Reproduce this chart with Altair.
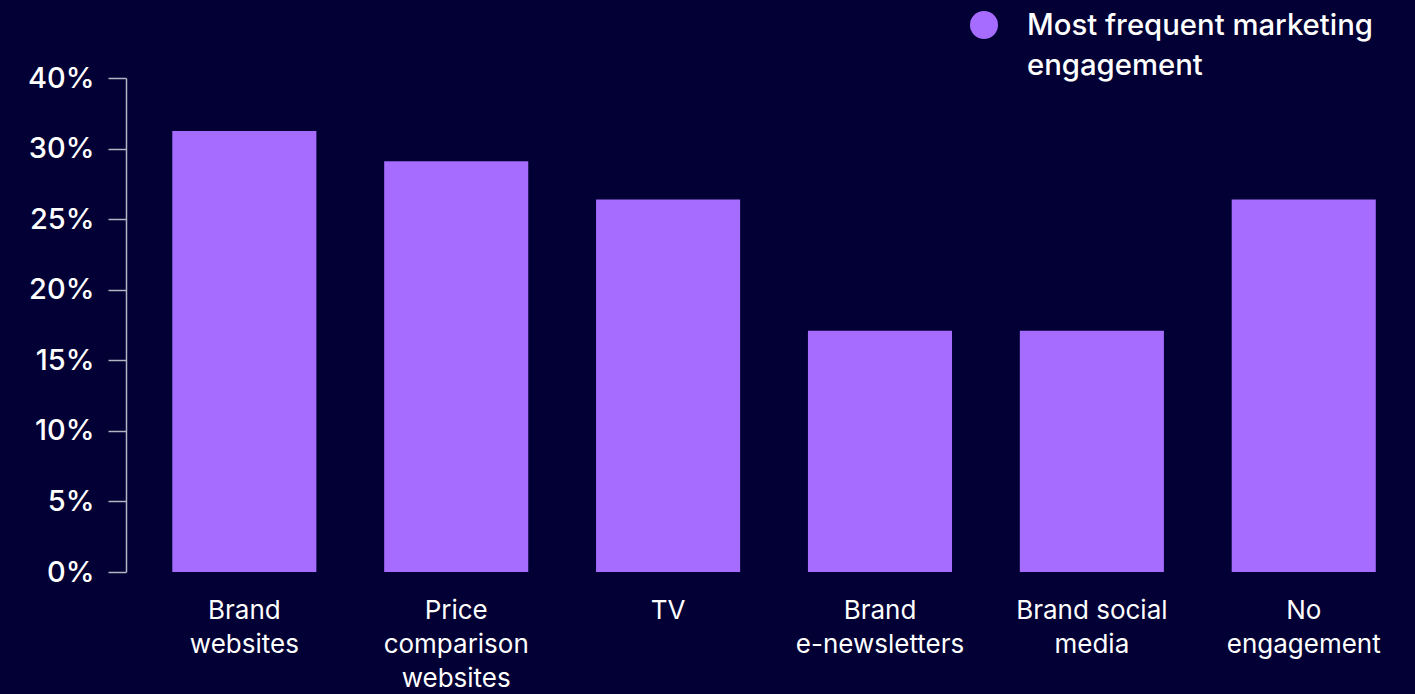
import altair as alt
import pandas as pd

categories = [
    "Brand\nwebsites",
    "Price\ncomparison\nwebsites",
    "TV",
    "Brand\ne-newsletters",
    "Brand social\nmedia",
    "No\nengagement",
]
values = [31.25, 29.1, 26.4, 17.1, 17.1, 26.4]
series_name = "Most frequent marketing\nengagement"
y_ticks = [0, 5, 10, 15, 20, 25, 30, 35]
y_tick_labels = ["0%", "5%", "10%", "15%", "20%", "25%", "30%", "40%"]

df = pd.DataFrame({"category": categories, "value": values})
legend_df = pd.DataFrame({"series": [series_name]})

label_map = "{" + ",".join(f"'{t}':'{l}'" for t, l in zip(y_ticks, y_tick_labels)) + "}"

BG = "#020034"
BAR = "#a66bff"
FONT = "Inter"

bars = (
    alt.Chart(df)
    .mark_bar(color=BAR)
    .encode(
        x=alt.X(
            "category:N",
            sort=categories,
            title=None,
            scale=alt.Scale(paddingInner=0.32, paddingOuter=0.19, align=0.575),
            axis=alt.Axis(
                labelExpr="split(datum.label, '\\n')",
                labelAngle=0,
                labelFontSize=26,
                labelLineHeight=34,
                labelColor="#ffffff",
                labelFont=FONT,
                labelPadding=25,
                labelBaseline="top",
                domain=False,
                ticks=False,
                labelLimit=400,
            ),
        ),
        y=alt.Y(
            "value:Q",
            title=None,
            scale=alt.Scale(domain=[0, 35], nice=False),
            axis=alt.Axis(
                values=y_ticks,
                labelExpr=f"{label_map}[toString(datum.value)]",
                labelFontSize=29,
                labelFontWeight=500,
                labelColor="#ffffff",
                labelFont=FONT,
                labelPadding=14,
                tickSize=18,
                tickColor="#b4b4c0",
                domainColor="#b4b4c0",
                tickWidth=1.5,
                domainWidth=1.5,
                grid=False,
            ),
        ),
    )
)

legend_point = (
    alt.Chart(legend_df)
    .mark_circle(color=BAR, opacity=1, size=784)
    .encode(x=alt.value(858), y=alt.value(-53))
)

legend_text = (
    alt.Chart(legend_df)
    .mark_text(
        align="left",
        baseline="alphabetic",
        lineBreak="\n",
        lineHeight=40,
        fontSize=29.3,
        fontWeight=500,
        font=FONT,
        color="#ffffff",
    )
    .encode(x=alt.value(901), y=alt.value(-43), text="series:N")
)

chart = (
    alt.layer(bars, legend_point, legend_text)
    .properties(
        width=1284,
        height=494,
        autosize=alt.AutoSizeParams(type="none"),
        padding={"left": 126, "top": 78, "right": 5, "bottom": 122},
        background=BG,
    )
    .configure_view(stroke=None)
)

chart.save("out.html", embed_options={"renderer": "svg", "actions": False})
